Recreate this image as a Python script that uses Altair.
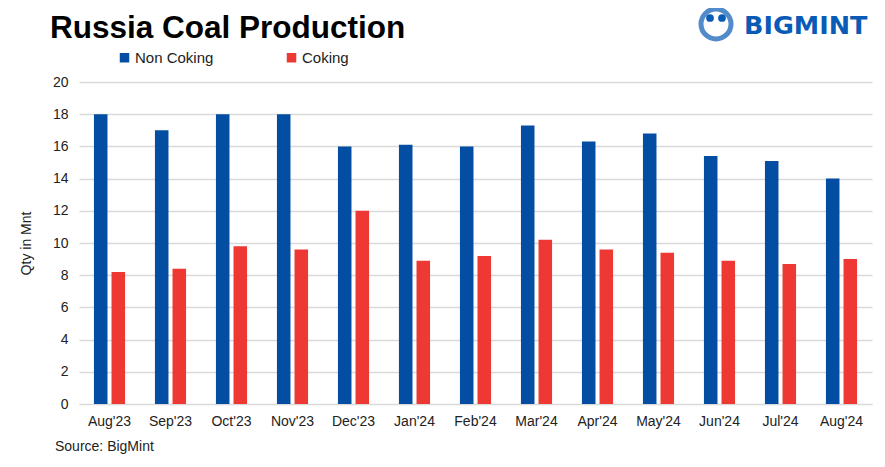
import altair as alt
import pandas as pd

months = ["Aug'23", "Sep'23", "Oct'23", "Nov'23", "Dec'23", "Jan'24", "Feb'24",
          "Mar'24", "Apr'24", "May'24", "Jun'24", "Jul'24", "Aug'24"]
non_coking = [18.0, 17.0, 18.0, 18.0, 16.0, 16.1, 16.0, 17.3, 16.3, 16.8, 15.4, 15.1, 14.0]
coking = [8.2, 8.4, 9.8, 9.6, 12.0, 8.9, 9.2, 10.2, 9.6, 9.4, 8.9, 8.7, 9.0]
series = ["Non Coking", "Coking"]
colors = ["#034ea2", "#ee3834"]

rows = []
for m, a, b in zip(months, non_coking, coking):
    rows.append({"month": m, "type": series[0], "value": a})
    rows.append({"month": m, "type": series[1], "value": b})
df = pd.DataFrame(rows)

FONT = "Liberation Sans"

bars = alt.Chart(df).mark_bar().encode(
    x=alt.X("month:N", sort=months,
            scale=alt.Scale(paddingInner=0.49, paddingOuter=0.245),
            axis=alt.Axis(title=None, labelAngle=0, labelFontSize=14, labelColor="#222222",
                          labelFont=FONT, ticks=False, domain=True, domainColor="#d9d9d9",
                          labelPadding=10)),
    xOffset=alt.XOffset("type:N", sort=series, scale=alt.Scale(paddingInner=0.23)),
    y=alt.Y("value:Q", scale=alt.Scale(domain=[0, 20]),
            axis=alt.Axis(title="Qty in Mnt", values=list(range(0, 21, 2)), titleFontSize=14,
                          titleFont=FONT, titleFontWeight="normal", titleColor="#222222",
                          titlePadding=19, labelFontSize=14, labelFont=FONT,
                          labelColor="#222222", ticks=False, domain=False, labelPadding=11,
                          gridColor="#d9d9d9", gridWidth=1.3)),
    color=alt.Color("type:N", sort=series,
                    scale=alt.Scale(domain=series, range=colors),
                    legend=alt.Legend(title=None, orient="none", legendX=38, legendY=-32,
                                      direction="horizontal", symbolType="square",
                                      symbolSize=90, labelFontSize=15, labelFont=FONT,
                                      labelColor="#222222", columnPadding=70,
                                      symbolStrokeWidth=0, labelOffset=3)),
)

anno = pd.DataFrame([{"k": 1}])

title = alt.Chart(anno).mark_text(text="Russia Coal Production", align="left",
                                  baseline="alphabetic", fontSize=31.5, fontWeight="bold",
                                  font=FONT, color="#000000").encode(
    x=alt.value(-29), y=alt.value(-44))

source = alt.Chart(anno).mark_text(text="Source: BigMint", align="left",
                                   baseline="alphabetic", fontSize=14, font=FONT,
                                   color="#222222").encode(
    x=alt.value(-24), y=alt.value(369))

logo_text = alt.Chart(anno).mark_text(text="BIGMINT", align="left", baseline="alphabetic",
                                      fontSize=25.5, fontWeight="bold", font="DejaVu Sans",
                                      color="#0a5bb5").encode(
    x=alt.value(665), y=alt.value(-48))

logo_ring = alt.Chart(anno).mark_point(shape="circle", filled=False, strokeWidth=5,
                                       color="#0a5bb5", size=900).encode(
    x=alt.value(637), y=alt.value(-58))

logo_heads = alt.Chart(pd.DataFrame([{"dx": 631}, {"dx": 643}])).mark_point(
    shape="circle", filled=True, color="#0a5bb5", size=60, opacity=1).encode(
    x=alt.X("dx:Q", scale=None), y=alt.value(-64))

chart = alt.layer(bars, title, source, logo_text, logo_ring, logo_heads).properties(
    width=793, height=322,
    padding={"left": 71, "top": 74, "right": 5, "bottom": 50},
    autosize=alt.AutoSizeParams(type="none"),
).configure_view(stroke=None).resolve_scale(x="independent")

chart.save("out.html", embed_options={"renderer": "svg", "actions": False})
